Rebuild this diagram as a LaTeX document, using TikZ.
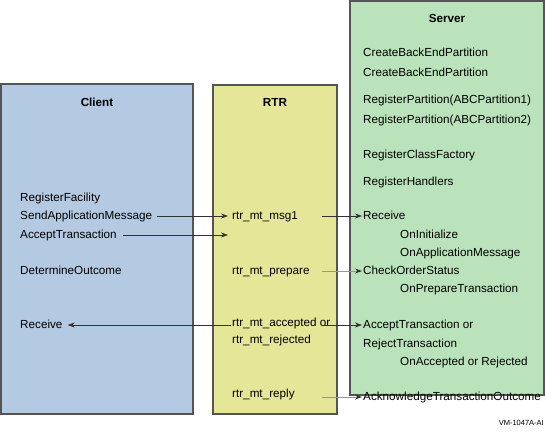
\documentclass[tikz,border=0pt]{standalone}
\usepackage{fontspec}
\setmainfont{Liberation Sans}
\usetikzlibrary{arrows.meta}
\definecolor{clientblue}{RGB}{180,201,226}
\definecolor{rtryellow}{RGB}{229,230,151}
\definecolor{servergreen}{RGB}{187,227,187}
\definecolor{edgegray}{RGB}{85,85,85}
\definecolor{linedark}{RGB}{50,50,50}
\definecolor{linesoft}{RGB}{150,150,150}
\tikzset{
  pane/.style={draw=edgegray,line width=1.3pt},
  txt/.style={anchor=west,inner sep=1pt,text height=8.4pt,text depth=2.3pt},
  ttl/.style={inner sep=1pt,font=\bfseries\fontsize{11.7}{14}\selectfont},
  msg/.style={draw=linedark,line width=0.6pt,-{Stealth[length=7pt,width=5pt,inset=2.2pt,color=linedark]}},
  softmsg/.style={msg,draw=linesoft,line width=0.9pt}
}

\begin{document}
\begin{tikzpicture}[x=1pt,y=-1pt,font=\fontsize{11.7}{14}\selectfont]
   \useasboundingbox (0,0) rectangle (546,434);
   \path[pane,fill=clientblue] (1,84) rectangle (193,414);
   \path[pane,fill=rtryellow] (213,85) rectangle (337,414);
   \path[pane,fill=servergreen] (350,1) rectangle (544,395);

   \node[ttl] (clientT) at (97,102) {Client};
   \node[txt] (regfac) at (19,198) {RegisterFacility};
   \node[txt] (send) at (19,216) {SendApplicationMessage};
   \node[txt] (accept) at (19,235) {AcceptTransaction};
   \node[txt] (determine) at (19,271) {DetermineOutcome};
   \node[txt] (recvC) at (19,325) {Receive};

   \node[ttl] (rtrT) at (275,102) {RTR};
   \node[txt] (msg1) at (231,216) {rtr\_mt\_msg1};
   \node[txt] (prepare) at (231,271) {rtr\_mt\_prepare};
   \node[txt] (accor) at (231,323) {rtr\_mt\_accepted or};
   \node[txt] (rejected) at (231,340) {rtr\_mt\_rejected};
   \node[txt] (reply) at (231,394) {rtr\_mt\_reply};
   \coordinate (accin) at (228,235);
   \coordinate (rtrout) at (322,0);

   \node[ttl] (serverT) at (447,18) {Server};
   \node[txt] (cbep1) at (362,53) {CreateBackEndPartition};
   \node[txt] (cbep2) at (362,73) {CreateBackEndPartition};
   \node[txt] (regp1) at (362,100) {RegisterPartition(ABCPartition1)};
   \node[txt] (regp2) at (362,120) {RegisterPartition(ABCPartition2)};
   \node[txt] (regcf) at (362,155) {RegisterClassFactory};
   \node[txt] (reghd) at (362,182) {RegisterHandlers};
   \node[txt] (recvS) at (362,216) {Receive};
   \node[txt] (oninit) at (399,235) {OnInitialize};
   \node[txt] (onappmsg) at (399,253) {OnApplicationMessage};
   \node[txt] (check) at (362,271) {CheckOrderStatus};
   \node[txt] (onprep) at (399,289) {OnPrepareTransaction};
   \node[txt] (acceptS) at (362,325) {AcceptTransaction or};
   \node[txt] (rejectS) at (362,344) {RejectTransaction};
   \node[txt] (onaccrej) at (399,362) {OnAccepted or Rejected};
   \node[txt] (ackS) at (362,397) {AcknowledgeTransactionOutcome};

   \node[anchor=east,inner sep=0pt,font=\fontsize{7.5}{9}\selectfont] (figid) at (544,423) {VM-1047A-AI};

   \path (send.east) edge[msg,shorten <=4pt,shorten >=3pt] (msg1.west);
   \path (accept.east) edge[msg,shorten <=5pt] (accin);
   \path (accor.west |- acceptS.west) edge[msg,shorten >=4pt] (recvC.east);
   \path (rtrout |- msg1.west) edge[msg] (recvS.west);
   \path (rtrout |- prepare.west) edge[softmsg] (check.west);
   \path (rtrout |- acceptS.west) edge[msg] (acceptS.west);
   \path (rtrout |- ackS.west) edge[softmsg] (ackS.west);
\end{tikzpicture}
\end{document}
